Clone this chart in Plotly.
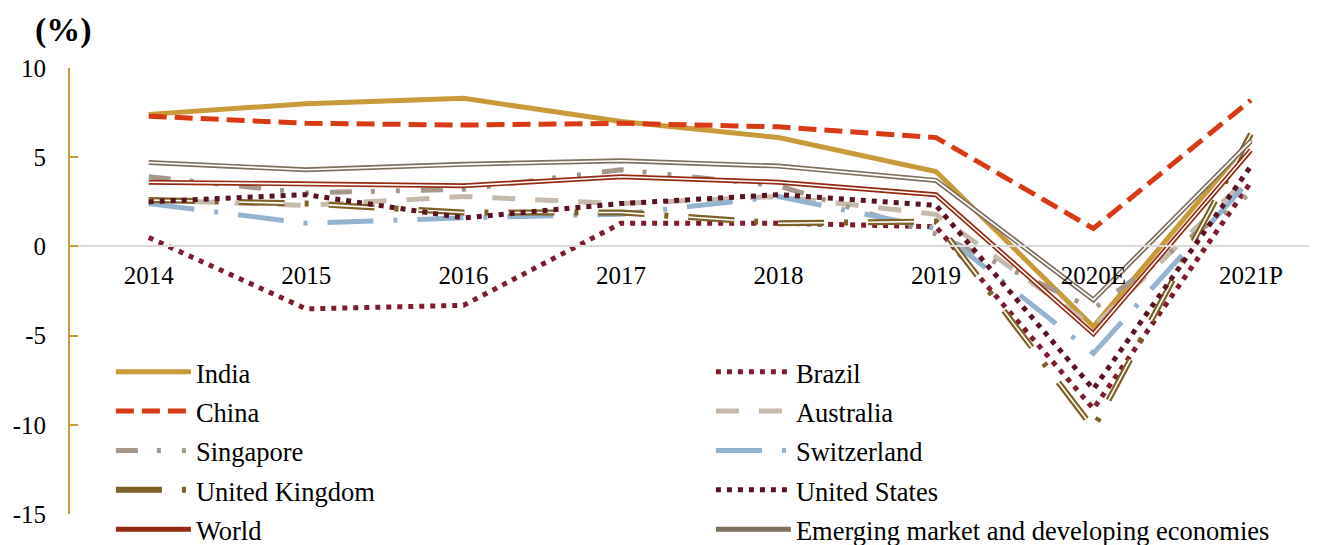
import plotly.graph_objects as go

# categories and growth rates (%)
years = ["2014", "2015", "2016", "2017", "2018", "2019", "2020E", "2021P"]

india = [7.4, 8.0, 8.3, 7.0, 6.1, 4.2, -4.5, 6.0]
brazil = [0.5, -3.5, -3.3, 1.3, 1.3, 1.1, -9.1, 3.6]
china = [7.3, 6.9, 6.8, 6.9, 6.7, 6.1, 1.0, 8.2]
australia = [2.6, 2.3, 2.8, 2.4, 2.8, 1.8, -4.5, 4.0]
singapore = [3.9, 3.0, 3.2, 4.3, 3.4, 0.7, -3.5, 3.0]
switzerland = [2.4, 1.3, 1.6, 1.8, 2.8, 1.0, -6.0, 3.8]
uk = [2.6, 2.4, 1.9, 1.9, 1.3, 1.4, -10.2, 6.3]
us = [2.5, 2.9, 1.6, 2.4, 2.9, 2.3, -8.0, 4.5]
world = [3.6, 3.5, 3.4, 3.9, 3.6, 2.9, -4.9, 5.4]
emde = [4.7, 4.3, 4.6, 4.8, 4.5, 3.7, -3.0, 5.9]

ytick_vals = [10, 5, 0, -5, -10, -15]
ytick_text = ["10", "5", "0", "-5", "-10", "-15"]

FONT = "Times New Roman, Liberation Serif, serif"
GOLD = "#C99A3A"

# name, values, color, width, dash, double line
series = [
    ("India", india, GOLD, 5, "solid", False),
    ("Brazil", brazil, "#7E1D2E", 5, "5px,6px", False),
    ("China", china, "#D93A16", 5, "18px,8px", False),
    ("Australia", australia, "#C5BAAC", 5, "23px,20px", False),
    ("Singapore", singapore, "#A5978A", 5, "22px,19px,4px,21px,4px,21px", False),
    ("Switzerland", switzerland, "#93B3CF", 5, "46px,20px,4px,20px", False),
    ("United Kingdom", uk, "#7E6127", 6, "46px,20px,4px,20px", True),
    ("United States", us, "#5A1322", 5, "5px,6px", False),
    ("World", world, "#952A12", 5, "solid", True),
    ("Emerging market and developing economies", emde, "#7D705F", 5, "solid", True),
]

fig = go.Figure()
for name, vals, color, width, dash, double in series:
    fig.add_trace(go.Scatter(
        x=years, y=vals, mode="lines",
        # legend font is a bit bigger than the label so rows get more room
        name=f'<span style="font-size:26.5px">{name}</span>',
        line=dict(color=color, width=width, dash=dash),
        hovertemplate=f"{name}: %{{y}}<extra></extra>",
    ))
    if double:
        # white core on top of the coloured line gives the double-line look
        inner_dash = "46px,44px" if dash != "solid" else "solid"
        fig.add_trace(go.Scatter(
            x=years, y=vals, name=name, mode="lines",
            line=dict(color="white", width=1.6, dash=inner_dash),
            showlegend=False, hoverinfo="skip",
        ))

# page body adds an 8px margin, so the plot box is set 8px up/left
fig.update_layout(
    width=1317,
    height=545,
    margin=dict(l=62, r=8, t=60, b=39, autoexpand=False),
    plot_bgcolor="white",
    paper_bgcolor="white",
    font=dict(family=FONT, size=25, color="black"),
    showlegend=True,
    legend=dict(
        orientation="h",
        entrywidth=510,
        entrywidthmode="pixels",
        itemwidth=75,
        x=0.0328,
        y=0.3745,
        xanchor="left",
        yanchor="top",
        bgcolor="rgba(0,0,0,0)",
        font=dict(family=FONT, size=28, color="black"),
        traceorder="normal",
    ),
    annotations=[dict(
        text="<b>(%)</b>", x=(55 - 62) / 1247, y=(506 - 22) / 446,
        xref="paper", yref="paper", xanchor="center", yanchor="middle",
        showarrow=False, font=dict(family=FONT, size=34, color="black"),
    )],
)

fig.update_xaxes(
    type="category",
    range=[-0.5, 7.42],
    anchor="free",
    position=15 / 25,
    showline=True,
    linecolor="#D9D9D9",
    linewidth=2,
    showgrid=False,
    zeroline=False,
    ticks="",
    ticklabelstandoff=7,
    tickfont=dict(family=FONT, size=25, color="black"),
)
fig.update_yaxes(
    range=[-15, 10],
    tickvals=ytick_vals,
    ticktext=ytick_text,
    showline=True,
    linecolor=GOLD,
    linewidth=2,
    ticks="inside",
    ticklen=8,
    tickcolor=GOLD,
    tickwidth=2,
    showgrid=False,
    zeroline=False,
    ticklabelstandoff=17,
    tickfont=dict(family=FONT, size=25, color="black"),
)

fig.write_html("out.html")
